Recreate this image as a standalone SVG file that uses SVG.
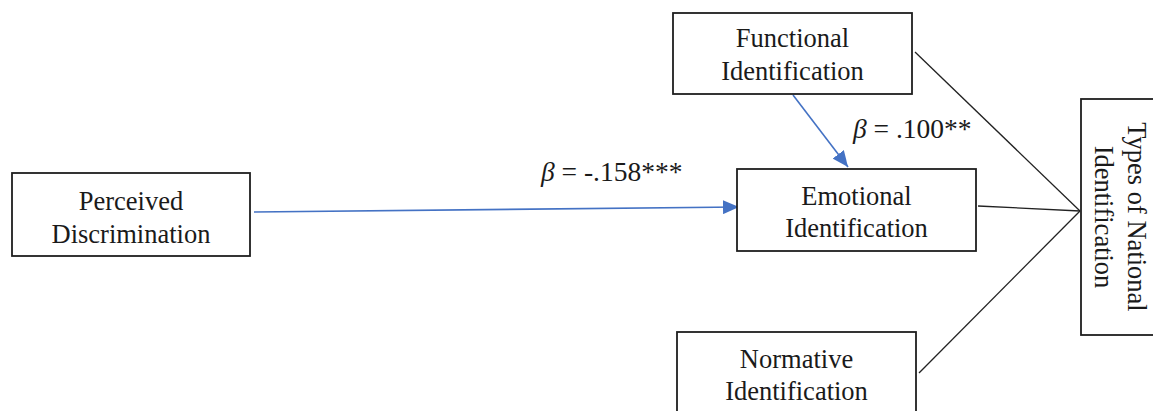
<svg xmlns="http://www.w3.org/2000/svg" width="1153" height="411" viewBox="0 0 1153 411">
  <style>
    .box { fill: #ffffff; stroke: #1e1e1e; stroke-width: 1.8; }
    .t { font-size: 26.5px; fill: #1a1a1a; text-anchor: middle; }
    .lbl { font-size: 27.5px; fill: #1a1a1a; }
    .blue { stroke: #4472C4; stroke-width: 1.6; fill: none; }
    .blk { stroke: #222222; stroke-width: 1.3; fill: none; }
  </style>
  <defs>
    <marker id="arr" markerUnits="userSpaceOnUse" markerWidth="18" markerHeight="14" refX="16" refY="7" orient="auto">
      <path d="M0,0 L16,7 L0,14 Z" fill="#4472C4"/>
    </marker>
  </defs>
  <rect width="1153" height="411" fill="#ffffff"/>
  <g font-family="'Liberation Serif', 'Times New Roman', Times, serif">
  <g id="connectors">
    <line class="blue" x1="254" y1="212" x2="739" y2="207" marker-end="url(#arr)"/>
    <line class="blue" x1="793" y1="95" x2="848" y2="167" marker-end="url(#arr)"/>
    <line class="blk" x1="915" y1="52" x2="1080" y2="211"/>
    <line class="blk" x1="978" y1="206" x2="1080" y2="211"/>
    <line class="blk" x1="919" y1="373" x2="1080" y2="211"/>
    <text class="lbl" x="541" y="181"><tspan font-style="italic">β</tspan> = -.158***</text>
    <text class="lbl" x="853" y="138"><tspan font-style="italic">β</tspan> = .100**</text>
  </g>
  <g id="perceived">
    <rect class="box" x="12" y="173" width="238" height="83"/>
    <text class="t" x="131" y="210">Perceived</text>
    <text class="t" x="131" y="243">Discrimination</text>
  </g>
  <g id="emotional">
    <rect class="box" x="737" y="169" width="239" height="82"/>
    <text class="t" x="856.5" y="205">Emotional</text>
    <text class="t" x="856.5" y="237">Identification</text>
  </g>
  <g id="functional">
    <rect class="box" x="673" y="13" width="239" height="81"/>
    <text class="t" x="792.5" y="47">Functional</text>
    <text class="t" x="792.5" y="80">Identification</text>
  </g>
  <g id="normative">
    <rect class="box" x="677" y="332" width="239" height="95"/>
    <text class="t" x="796.5" y="368">Normative</text>
    <text class="t" x="796.5" y="400">Identification</text>
  </g>
  <g id="types">
    <rect class="box" x="1081" y="99" width="100" height="236"/>
    <g transform="translate(1128,217) rotate(90)">
      <text class="t" x="0" y="0">Types of National</text>
      <text class="t" x="0" y="33">Identification</text>
    </g>
  </g>
  </g>
</svg>
